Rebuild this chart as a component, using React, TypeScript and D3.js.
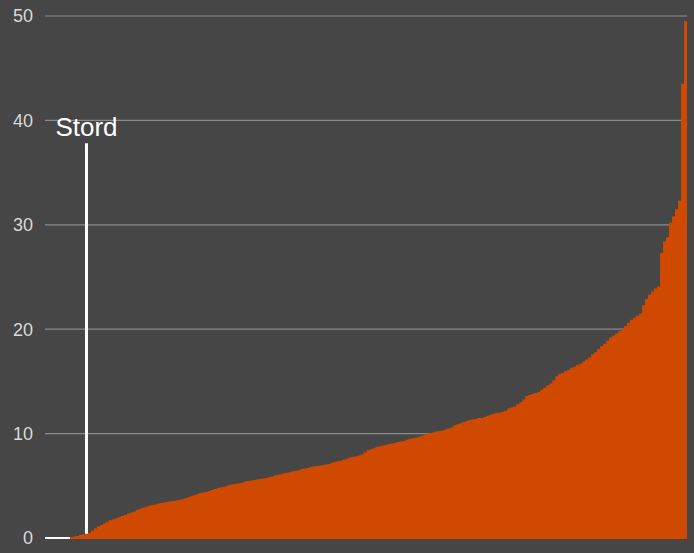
import React from "react";
import * as d3 from "d3";

const values: number[] = [
  0.1, 0.15, 0.2, 0.3, 0.35, 0.4, 0.5, 0.7, 0.9, 1.1,
  1.25, 1.4, 1.55, 1.7, 1.8, 1.9, 2.0, 2.1, 2.2, 2.35,
  2.45, 2.55, 2.7, 2.8, 2.9, 3.0, 3.1, 3.15, 3.2, 3.3,
  3.35, 3.4, 3.45, 3.5, 3.55, 3.6, 3.65, 3.7, 3.8, 3.9,
  4.0, 4.1, 4.2, 4.3, 4.35, 4.4, 4.5, 4.6, 4.7, 4.8,
  4.85, 4.9, 5.0, 5.1, 5.15, 5.2, 5.25, 5.3, 5.4, 5.45,
  5.5, 5.55, 5.6, 5.65, 5.7, 5.75, 5.85, 5.9, 6.0, 6.05,
  6.1, 6.2, 6.25, 6.3, 6.4, 6.45, 6.5, 6.6, 6.65, 6.7,
  6.8, 6.85, 6.9, 6.95, 7.0, 7.05, 7.1, 7.2, 7.3, 7.35,
  7.4, 7.5, 7.6, 7.7, 7.75, 7.8, 7.9, 8.0, 8.2, 8.4,
  8.5, 8.6, 8.75, 8.8, 8.85, 8.9, 9.0, 9.05, 9.1, 9.2,
  9.25, 9.3, 9.4, 9.5, 9.55, 9.6, 9.7, 9.8, 9.9, 10.0,
  10.05, 10.1, 10.2, 10.25, 10.3, 10.4, 10.5, 10.6, 10.8, 10.9,
  11.0, 11.1, 11.2, 11.3, 11.35, 11.4, 11.5, 11.5, 11.6, 11.7,
  11.8, 11.9, 12.0, 12.0, 12.1, 12.2, 12.4, 12.5, 12.6, 12.8,
  13.0, 13.3, 13.6, 13.7, 13.8, 13.9, 14.0, 14.2, 14.4, 14.6,
  14.8, 15.1, 15.5, 15.7, 15.8, 16.0, 16.1, 16.3, 16.4, 16.6,
  16.7, 16.9, 17.1, 17.3, 17.6, 17.8, 18.1, 18.4, 18.6, 18.9,
  19.2, 19.4, 19.6, 19.8, 20.0, 20.3, 20.6, 20.9, 21.1, 21.3,
  21.5, 22.3, 22.9, 23.3, 23.6, 23.9, 24.1, 27.3, 28.4, 28.8,
  30.2, 30.8, 31.5, 32.3, 43.5, 49.5,
];

const highlightIndex = 5;
const highlightLabel = "Stord";
const highlightTop = 37.8;
const yTicks: number[] = [0, 10, 20, 30, 40, 50];

const W = 694;
const H = 553;

export default function App() {
  const x = d3
    .scaleBand<number>()
    .domain(d3.range(values.length))
    .range([70, 687])
    .paddingInner(0)
    .paddingOuter(0);
  const y = d3.scaleLinear().domain([0, 50]).range([538, 16]);
  const bw = x.bandwidth();
  const hx = (x(highlightIndex) ?? 0) + bw / 2;

  const area = d3
    .area<number>()
    .x((_, i) => x(i) ?? 0)
    .y0(y(0) + 1)
    .y1((v) => y(v))
    .curve(d3.curveStepAfter);

  const pts = [...values, values[values.length - 1]];

  return (
    <svg
      width={W}
      height={H}
      style={{ position: "absolute", left: 0, top: 0, display: "block" }}
      fontFamily="'Liberation Sans', Arial, sans-serif"
    >
      <rect x={0} y={0} width={W} height={H} fill="#464646" />
      {yTicks.map((t) => (
        <g key={t}>
          <line
            x1={45}
            x2={t === 0 ? 72 : 687}
            y1={y(t)}
            y2={y(t)}
            stroke={t === 0 ? "#ffffff" : "#8a8a8a"}
            strokeWidth={t === 0 ? 2 : 1.2}
          />
          <text
            x={33}
            y={y(t)}
            dy="0.36em"
            textAnchor="end"
            fill="#d8d8d8"
            fontSize={18}
          >
            {t}
          </text>
        </g>
      ))}
      <path
        d={
          area.x((_, i) => (i < values.length ? x(i) ?? 0 : 687))(pts) ?? ""
        }
        fill="#cf4a00"
      />
      <line
        x1={hx}
        x2={hx}
        y1={y(highlightTop)}
        y2={y(values[highlightIndex])}
        stroke="#ffffff"
        strokeWidth={3}
      />
      <text
        x={hx}
        y={136}
        textAnchor="middle"
        fill="#ffffff"
        fontSize={26}
      >
        {highlightLabel}
      </text>
    </svg>
  );
}
